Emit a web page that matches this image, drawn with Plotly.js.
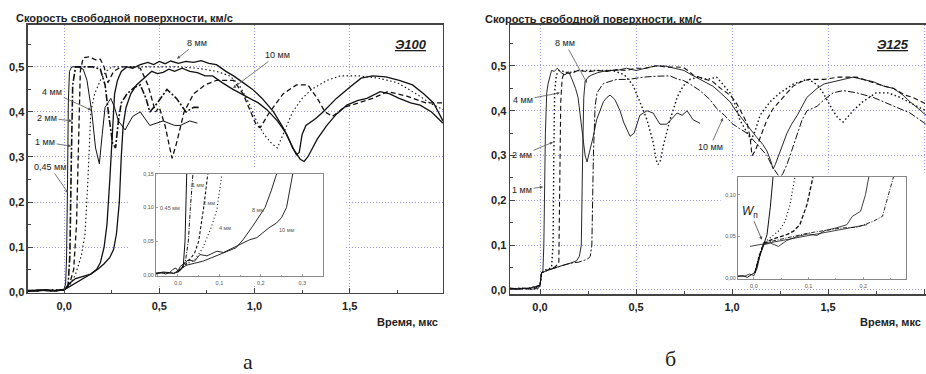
<!DOCTYPE html>
<html><head><meta charset="utf-8">
<script src="https://cdn.plot.ly/plotly-3.0.1.min.js"></script>
<style>html,body{margin:0;padding:0;background:#fff}#chart{width:926px;height:374px}</style>
</head><body><div id="chart"></div>
<script>
// ---------- Э100 (left panel), main plot: time (мкс) and velocity (км/с) ----------
const a045_t = [-0.19,-0.15,-0.11,-0.07,-0.03,0.0,0.008,0.013,0.018,0.022,0.028,0.04,0.07,0.10,0.12,0.145,0.165,0.185,0.20,0.215,0.245,0.265,0.285,0.32,0.36,0.40,0.45,0.52,0.58,0.61,0.66,0.70];
const a045_v = [0.004,0.002,0.005,0.003,0.004,0.005,0.02,0.08,0.25,0.42,0.49,0.50,0.50,0.495,0.47,0.40,0.32,0.285,0.35,0.41,0.43,0.41,0.38,0.36,0.39,0.40,0.37,0.38,0.37,0.37,0.38,0.375];
const a1_t = [-0.19,-0.12,-0.05,0.0,0.02,0.03,0.038,0.045,0.06,0.10,0.15,0.19,0.215,0.235,0.255,0.27,0.285,0.30,0.33,0.37,0.40,0.43,0.45,0.49,0.54,0.59,0.64,0.68,0.71];
const a1_v = [0.002,0.004,0.003,0.006,0.012,0.08,0.30,0.46,0.50,0.50,0.50,0.495,0.46,0.39,0.33,0.32,0.38,0.42,0.44,0.455,0.46,0.43,0.40,0.42,0.45,0.43,0.40,0.41,0.41];
const a2_t = [-0.19,-0.1,-0.04,0.0,0.03,0.05,0.065,0.075,0.085,0.10,0.13,0.17,0.19,0.21,0.23,0.26,0.30,0.35,0.40,0.44,0.48,0.50,0.53,0.555,0.567,0.59,0.63,0.68,0.74,0.80,0.89,0.94,0.98,1.01,1.03,1.08,1.15,1.22,1.28,1.33,1.37,1.41,1.47,1.55,1.62,1.70,1.80,1.90,1.99];
const a2_v = [0.003,0.005,0.003,0.006,0.02,0.05,0.15,0.35,0.49,0.52,0.522,0.515,0.517,0.50,0.465,0.49,0.50,0.50,0.497,0.46,0.40,0.41,0.37,0.32,0.297,0.33,0.40,0.44,0.46,0.47,0.47,0.44,0.40,0.37,0.365,0.40,0.44,0.46,0.46,0.43,0.40,0.39,0.41,0.42,0.43,0.445,0.435,0.42,0.42];
const a4_t = [-0.19,-0.08,0.0,0.03,0.06,0.09,0.11,0.125,0.14,0.16,0.19,0.22,0.25,0.30,0.40,0.50,0.60,0.70,0.80,0.87,0.92,0.97,1.01,1.05,1.09,1.12,1.16,1.20,1.25,1.30,1.38,1.45,1.55,1.65,1.75,1.85,1.92,1.99];
const a4_v = [0.003,0.004,0.006,0.015,0.04,0.08,0.13,0.25,0.40,0.44,0.47,0.49,0.50,0.50,0.50,0.50,0.50,0.497,0.49,0.48,0.46,0.42,0.38,0.35,0.33,0.32,0.36,0.40,0.43,0.45,0.47,0.48,0.48,0.475,0.465,0.44,0.42,0.405];
const a8_t = [-0.19,-0.14,-0.09,-0.04,0.0,0.02,0.06,0.10,0.14,0.17,0.19,0.21,0.225,0.24,0.255,0.265,0.28,0.30,0.33,0.36,0.40,0.44,0.47,0.50,0.53,0.56,0.60,0.64,0.68,0.72,0.76,0.80,0.85,0.89,0.94,0.99,1.04,1.10,1.15,1.19,1.22,1.235,1.25,1.27,1.32,1.36,1.43,1.50,1.56,1.62,1.69,1.76,1.83,1.89,1.94,1.99];
const a8_v = [0.004,0.002,0.005,0.003,0.005,0.01,0.02,0.03,0.04,0.05,0.065,0.10,0.15,0.25,0.38,0.44,0.47,0.49,0.50,0.497,0.505,0.51,0.505,0.512,0.507,0.513,0.508,0.512,0.51,0.514,0.508,0.505,0.49,0.48,0.465,0.45,0.43,0.40,0.365,0.33,0.305,0.31,0.35,0.37,0.385,0.40,0.43,0.455,0.475,0.48,0.478,0.47,0.46,0.44,0.42,0.38];
const a10_t = [-0.19,-0.13,-0.07,-0.02,0.0,0.03,0.06,0.10,0.14,0.18,0.21,0.24,0.26,0.275,0.29,0.30,0.31,0.325,0.35,0.38,0.42,0.46,0.49,0.52,0.55,0.58,0.62,0.66,0.70,0.74,0.78,0.83,0.887,0.93,0.98,1.02,1.065,1.12,1.17,1.20,1.24,1.26,1.28,1.33,1.38,1.43,1.485,1.54,1.59,1.66,1.71,1.76,1.82,1.87,1.93,1.99];
const a10_v = [0.003,0.005,0.002,0.004,0.005,0.02,0.03,0.035,0.04,0.052,0.063,0.077,0.095,0.13,0.20,0.30,0.37,0.41,0.44,0.46,0.475,0.49,0.485,0.488,0.495,0.49,0.497,0.49,0.487,0.48,0.48,0.465,0.45,0.44,0.43,0.42,0.405,0.38,0.35,0.32,0.295,0.29,0.30,0.34,0.37,0.395,0.415,0.425,0.43,0.445,0.44,0.43,0.42,0.415,0.40,0.375];

// ---------- Э100 inset ----------
const ia045_t = [-0.053,-0.04,-0.03,-0.02,-0.01,0.0,0.008,0.013,0.017,0.019,0.021];
const ia045_v = [0.002,0.003,0.001,0.003,0.002,0.004,0.008,0.015,0.05,0.10,0.15];
const ia1_t = [0.0,0.01,0.018,0.025,0.03,0.036];
const ia1_v = [0.004,0.01,0.02,0.05,0.10,0.15];
const ia2_t = [0.0,0.01,0.025,0.04,0.05,0.062,0.072];
const ia2_v = [0.004,0.01,0.02,0.032,0.05,0.10,0.15];
const ia4_t = [0.0,0.01,0.025,0.04,0.06,0.08,0.094,0.106];
const ia4_v = [0.004,0.01,0.017,0.022,0.04,0.07,0.097,0.15];
const ia8_t = [-0.053,-0.03,-0.01,0.0,0.01,0.02,0.04,0.06,0.08,0.10,0.12,0.14,0.157,0.18,0.21,0.225,0.238];
const ia8_v = [0.002,0.003,0.002,0.006,0.01,0.014,0.017,0.02,0.025,0.03,0.034,0.04,0.052,0.072,0.10,0.125,0.15];
const ia10_t = [-0.053,-0.035,-0.02,-0.012,-0.005,0.0,0.005,0.012,0.025,0.04,0.053,0.07,0.094,0.11,0.133,0.15,0.173,0.19,0.205,0.22,0.238,0.25,0.262,0.27,0.277];
const ia10_v = [0.002,0.004,0.003,0.008,0.01,0.005,0.012,0.016,0.022,0.02,0.03,0.028,0.035,0.033,0.04,0.045,0.052,0.055,0.063,0.07,0.077,0.085,0.10,0.125,0.15];

// ---------- Э125 (right panel), main plot ----------
const b1_t = [-0.156,-0.12,-0.08,-0.04,-0.01,0.0,0.008,0.015,0.02,0.028,0.035,0.042,0.06,0.075,0.09,0.11,0.13,0.15,0.167,0.185,0.198,0.212,0.224,0.235,0.245,0.26,0.276,0.295,0.3125,0.33,0.349,0.365,0.39,0.417,0.435,0.453,0.469,0.49,0.52,0.557,0.589,0.61,0.625,0.66,0.69,0.714,0.74,0.766,0.797,0.833];
const b1_v = [0.003,0.001,0.004,0.002,0.003,0.01,0.038,0.042,0.10,0.35,0.44,0.46,0.49,0.488,0.495,0.485,0.48,0.487,0.47,0.45,0.43,0.38,0.335,0.30,0.286,0.31,0.34,0.38,0.40,0.42,0.43,0.435,0.425,0.40,0.375,0.36,0.343,0.35,0.39,0.40,0.395,0.38,0.37,0.37,0.385,0.395,0.39,0.40,0.38,0.372];
const b2_t = [-0.156,-0.1,-0.05,0.0,0.008,0.03,0.06,0.068,0.072,0.076,0.085,0.10,0.15,0.20,0.25,0.30,0.38,0.44,0.484,0.52,0.557,0.589,0.605,0.615,0.628,0.641,0.66,0.677,0.70,0.714,0.745,0.781,0.82,0.87,0.92,0.96,0.99,1.02,1.04,1.08,1.10,1.12,1.146,1.198,1.25,1.32,1.39,1.42,1.45,1.474,1.50,1.526,1.55,1.578,1.60,1.63,1.68,1.75,1.81,1.875,1.94,2.01];
const b2_v = [0.002,0.004,0.002,0.01,0.038,0.045,0.05,0.10,0.30,0.44,0.48,0.49,0.485,0.49,0.49,0.49,0.49,0.48,0.457,0.42,0.38,0.33,0.29,0.28,0.29,0.32,0.35,0.38,0.41,0.43,0.455,0.47,0.475,0.47,0.475,0.455,0.44,0.41,0.38,0.35,0.335,0.355,0.39,0.42,0.44,0.46,0.47,0.465,0.455,0.44,0.42,0.40,0.385,0.375,0.385,0.40,0.42,0.44,0.44,0.43,0.415,0.40];
const b4_t = [-0.156,-0.09,-0.03,0.0,0.008,0.04,0.08,0.098,0.103,0.108,0.115,0.125,0.16,0.20,0.25,0.30,0.35,0.40,0.45,0.50,0.55,0.60,0.625,0.66,0.70,0.745,0.77,0.797,0.83,0.87,0.90,0.94,0.974,1.0,1.026,1.057,1.08,1.094,1.104,1.12,1.146,1.182,1.214,1.266,1.318,1.36,1.40,1.48,1.55,1.65,1.72,1.79,1.84,1.90,1.94,2.01];
const b4_v = [0.004,0.002,0.003,0.01,0.038,0.045,0.052,0.06,0.20,0.42,0.47,0.485,0.483,0.49,0.487,0.49,0.488,0.492,0.49,0.495,0.495,0.50,0.50,0.497,0.498,0.497,0.49,0.48,0.475,0.47,0.465,0.45,0.44,0.43,0.415,0.39,0.37,0.34,0.30,0.31,0.34,0.38,0.405,0.43,0.455,0.465,0.47,0.47,0.475,0.475,0.465,0.455,0.45,0.435,0.43,0.415];
const b8_t = [-0.156,-0.06,0.0,0.008,0.04,0.08,0.12,0.16,0.19,0.205,0.215,0.222,0.228,0.235,0.25,0.27,0.30,0.35,0.40,0.45,0.50,0.55,0.60,0.65,0.70,0.75,0.79,0.833,0.87,0.90,0.94,0.99,1.02,1.057,1.09,1.13,1.16,1.182,1.20,1.214,1.225,1.25,1.286,1.31,1.34,1.39,1.443,1.48,1.526,1.58,1.63,1.68,1.734,1.79,1.84,1.89,1.927,1.97,2.01];
const b8_v = [0.003,0.004,0.01,0.038,0.044,0.05,0.055,0.06,0.065,0.075,0.10,0.30,0.43,0.465,0.475,0.48,0.485,0.49,0.49,0.495,0.49,0.495,0.50,0.50,0.495,0.49,0.48,0.47,0.462,0.455,0.44,0.42,0.40,0.38,0.36,0.34,0.325,0.31,0.29,0.27,0.28,0.31,0.35,0.37,0.39,0.43,0.45,0.46,0.465,0.47,0.475,0.47,0.465,0.455,0.45,0.435,0.42,0.405,0.39];
const b10_t = [-0.156,-0.07,0.0,0.008,0.04,0.08,0.12,0.16,0.20,0.23,0.25,0.262,0.27,0.278,0.287,0.297,0.328,0.36,0.40,0.46,0.536,0.60,0.677,0.72,0.745,0.78,0.833,0.885,0.92,0.96,1.005,1.04,1.078,1.12,1.15,1.182,1.21,1.234,1.25,1.265,1.286,1.31,1.34,1.365,1.39,1.443,1.48,1.526,1.578,1.65,1.734,1.79,1.84,1.927,2.01];
const b10_v = [0.002,0.003,0.01,0.038,0.044,0.05,0.055,0.06,0.062,0.066,0.07,0.075,0.10,0.30,0.41,0.44,0.46,0.465,0.47,0.47,0.475,0.477,0.478,0.47,0.468,0.46,0.445,0.425,0.405,0.39,0.37,0.36,0.35,0.33,0.315,0.30,0.275,0.26,0.25,0.26,0.28,0.31,0.35,0.38,0.40,0.41,0.425,0.44,0.445,0.44,0.43,0.42,0.41,0.395,0.37];

// ---------- Э125 inset ----------
const ib1_t = [-0.029,-0.02,-0.012,-0.005,0.002,0.01,0.015,0.02,0.024,0.03,0.035];
const ib1_v = [0.002,0.003,0.001,0.004,0.007,0.025,0.035,0.045,0.052,0.085,0.121];
const ib2_t = [0.002,0.01,0.018,0.03,0.048,0.057,0.066,0.075];
const ib2_v = [0.007,0.028,0.042,0.048,0.058,0.068,0.088,0.121];
const ib4_t = [0.002,0.01,0.018,0.04,0.06,0.072,0.084,0.097,0.108];
const ib4_v = [0.007,0.027,0.042,0.048,0.052,0.056,0.064,0.088,0.121];
const ib8_t = [-0.029,-0.018,-0.008,0.0,0.006,0.012,0.018,0.03,0.045,0.06,0.08,0.10,0.115,0.13,0.15,0.17,0.18,0.195,0.204,0.21];
const ib8_v = [0.003,0.002,0.005,0.003,0.012,0.03,0.04,0.042,0.038,0.045,0.05,0.053,0.051,0.057,0.06,0.064,0.074,0.08,0.10,0.121];
const ib10_t = [0.002,0.01,0.018,0.04,0.07,0.10,0.13,0.16,0.189,0.218,0.235,0.246,0.255];
const ib10_v = [0.006,0.026,0.042,0.045,0.05,0.054,0.057,0.06,0.061,0.068,0.074,0.10,0.121];
const ibTan_t = [-0.007,0.207];
const ibTan_v = [0.038,0.064];

const axisFont = {family:'Liberation Sans, Arial, sans-serif', size:11, color:'#222', weight:'bold'};
const lblFont = {family:'Liberation Sans, Arial, sans-serif', size:9, color:'#222'};
const tinyFont = {family:'Liberation Sans, Arial, sans-serif', size:5.5, color:'#555'};

function tr(t, v, xa, ya, dash, w) {
  return {x:t, y:v, xaxis:xa, yaxis:ya, mode:'lines', type:'scatter', hoverinfo:'skip', showlegend:false,
          line:{color:'#111', width:w||1.1, dash:dash||'solid'}};
}
const DOT = '1.5px,2.5px', DASH = '5px,3px', DASHDOT = '7px,2px,2px,2px';

const data = [
  tr(a045_t, a045_v, 'x', 'y', 'solid', 1.0),
  tr(a1_t, a1_v, 'x', 'y', DASHDOT, 1.6),
  tr(a2_t, a2_v, 'x', 'y', DASH, 1.3),
  tr(a4_t, a4_v, 'x', 'y', DOT, 1.1),
  tr(a8_t, a8_v, 'x', 'y', 'solid', 1.3),
  tr(a10_t, a10_v, 'x', 'y', 'solid', 1.3),
  tr(ia045_t, ia045_v, 'x2', 'y2', 'solid', 1.0),
  tr(ia1_t, ia1_v, 'x2', 'y2', '4px,1.5px,1px,1.5px', 1.0),
  tr(ia2_t, ia2_v, 'x2', 'y2', '3px,2px', 1.1),
  tr(ia4_t, ia4_v, 'x2', 'y2', '1px,2.5px', 1.1),
  tr(ia8_t, ia8_v, 'x2', 'y2', 'solid', 0.9),
  tr(ia10_t, ia10_v, 'x2', 'y2', 'solid', 0.9),
  tr(b1_t, b1_v, 'x3', 'y3', 'solid', 0.9),
  tr(b2_t, b2_v, 'x3', 'y3', DOT, 1.4),
  tr(b4_t, b4_v, 'x3', 'y3', DASH, 1.1),
  tr(b8_t, b8_v, 'x3', 'y3', 'solid', 0.9),
  tr(b10_t, b10_v, 'x3', 'y3', DASHDOT, 1.0),
  tr(ib1_t, ib1_v, 'x4', 'y4', 'solid', 1.0),
  tr(ib2_t, ib2_v, 'x4', 'y4', '1px,2.5px', 1.2),
  tr(ib4_t, ib4_v, 'x4', 'y4', '4px,2px', 1.3),
  tr(ib8_t, ib8_v, 'x4', 'y4', 'solid', 0.8),
  tr(ib10_t, ib10_v, 'x4', 'y4', '4px,1.5px,1px,1.5px', 0.9),
  tr(ibTan_t, ibTan_v, 'x4', 'y4', 'solid', 0.8)
];

const gridC = 'rgba(135,135,240,0.85)';
const gridDash = '1px,2px';
function mainX(dom, rng, anchor) {
  return {domain:dom, range:rng, anchor:anchor, dtick:0.5, tick0:0, tickformat:'.1f',
    showgrid:true, gridcolor:gridC, griddash:gridDash, gridwidth:1, zeroline:false,
    showline:true, mirror:true, linecolor:'#444', linewidth:1.5,
    ticks:'inside', ticklen:5, tickwidth:1, tickcolor:'#444', tickfont:axisFont, ticklabelstandoff:2,
    minor:{dtick:0.25, tick0:0, ticks:'inside', ticklen:3, tickcolor:'#444', showgrid:false}};
}
function mainY(dom, rng, anchor) {
  return {domain:dom, range:rng, anchor:anchor, dtick:0.1, tick0:0, tickformat:'.1f',
    showgrid:true, gridcolor:gridC, griddash:gridDash, gridwidth:1, zeroline:false,
    showline:true, mirror:true, linecolor:'#444', linewidth:1.5,
    ticks:'inside', ticklen:5, tickwidth:1, tickcolor:'#444', tickfont:axisFont,
    minor:{dtick:0.05, tick0:0, ticks:'inside', ticklen:3, tickcolor:'#444', showgrid:false}};
}
function insX(dom, rng, anchor) {
  return {domain:dom, range:rng, anchor:anchor, dtick:0.1, tick0:0, tickformat:'.1f',
    showgrid:false, zeroline:false, showline:true, mirror:true, linecolor:'#888', linewidth:1,
    ticks:'inside', ticklen:2, tickwidth:0.8, tickcolor:'#888', tickfont:tinyFont, ticklabelstandoff:1,
    minor:{dtick:0.05, tick0:0, ticks:'inside', ticklen:1.5, tickcolor:'#888'}};
}
function insY(dom, rng, anchor) {
  return {domain:dom, range:rng, anchor:anchor, dtick:0.05, tick0:0, tickformat:'.2f',
    showgrid:false, zeroline:false, showline:true, mirror:true, linecolor:'#888', linewidth:1,
    ticks:'inside', ticklen:2, tickwidth:0.8, tickcolor:'#888', tickfont:tinyFont};
}

function lab(text, x, y, xr, yr, ax, ay) {
  return {text:text, x:x, y:y, xref:xr, yref:yr, showarrow:true, ax:ax, ay:ay,
    arrowhead:2, arrowsize:0.8, arrowwidth:0.8, arrowcolor:'#555', font:lblFont, standoff:0};
}
function tiny(text, x, y, xr, yr) {
  return {text:text, x:x, y:y, xref:xr, yref:yr, showarrow:false, font:tinyFont};
}
function ptxt(text, x, y, xa, font) {
  return {text:text, x:x, y:y, xref:'paper', yref:'paper', xanchor:xa, yanchor:'middle', showarrow:false, font:font};
}

const layout = {
  width:926, height:374, margin:{l:0, r:0, t:0, b:0},
  paper_bgcolor:'#fff', plot_bgcolor:'#fff', separators:', ', showlegend:false,
  xaxis: mainX([0.0302, 0.4784], [-0.19, 1.99], 'y'),
  yaxis: mainY([0.2166, 0.9332], [-0.002, 0.593], 'x'),
  xaxis2: insX([0.1685, 0.3488], [-0.053, 0.35], 'y2'),
  yaxis2: insY([0.262, 0.5348], [-0.002, 0.15], 'x2'),
  xaxis3: mainX([0.5508, 1.0], [-0.156, 2.01], 'y3'),
  yaxis3: mainY([0.2139, 0.9332], [-0.009, 0.5915], 'x3'),
  xaxis4: insX([0.797, 0.9784], [-0.029, 0.278], 'y4'),
  yaxis4: insY([0.254, 0.5267], [-0.001, 0.121], 'x4'),
  shapes: [
    {type:'rect', xref:'x', yref:'y', x0:0.336, x1:1.474, y0:0.016, y1:0.276, fillcolor:'#fff', line:{width:0}, layer:'between'},
    {type:'rect', xref:'x3', yref:'y3', x0:0.94, x1:2.01, y0:0.004, y1:0.262, fillcolor:'#fff', line:{width:0}, layer:'between'}
  ],
  annotations: [
    ptxt('Скорость свободной поверхности, км/с', 0.0151, 0.9519, 'left', axisFont),
    ptxt('Скорость свободной поверхности, км/с', 0.5216, 0.949, 'left', axisFont),
    ptxt('Время, мкс', 0.4752, 0.139, 'right', axisFont),
    ptxt('Время, мкс', 0.9968, 0.139, 'right', axisFont),
    ptxt('<b><i><u>Э100</u></i></b>', 0.4438, 0.8797, 'center', {family:'Liberation Sans, Arial, sans-serif', size:13, color:'#222'}),
    ptxt('<b><i><u>Э125</u></i></b>', 0.9644, 0.8797, 'center', {family:'Liberation Sans, Arial, sans-serif', size:13, color:'#222'}),
    ptxt('а', 248/926, (374-361)/374, 'center', {family:'Liberation Serif, serif', size:22, color:'#222'}),
    ptxt('б', 670/926, (374-358)/374, 'center', {family:'Liberation Serif, serif', size:22, color:'#222'}),
    lab('8 мм', 0.593, 0.518, 'x', 'y', 20, -16),
    lab('10 мм', 0.887, 0.453, 'x', 'y', 44, -33),
    lab('4 мм', 0.142, 0.404, 'x', 'y', -39, -18),
    lab('2 мм', 0.042, 0.38, 'x', 'y', -25, -3),
    lab('1 мм', 0.037, 0.324, 'x', 'y', -26, -4),
    lab('0,45 мм', 0.021, 0.22, 'x', 'y', -18, -26),
    lab('8 мм', 0.245, 0.462, 'x3', 'y3', -22, -40),
    lab('4 мм', 0.104, 0.44, 'x3', 'y3', -37, 7),
    lab('2 мм', 0.068, 0.33, 'x3', 'y3', -31, 13),
    lab('1 мм', 0.016, 0.23, 'x3', 'y3', -21, 3),
    lab('10 мм', 0.953, 0.384, 'x3', 'y3', -13, 29),
    {text:'<i>W</i><sub>п</sub>', x:0.0147, y:0.046, xref:'x4', yref:'y4', showarrow:true, ax:-12, ay:-28,
      arrowhead:2, arrowsize:0.8, arrowwidth:0.8, arrowcolor:'#444', standoff:0,
      font:{family:'Liberation Sans, Arial, sans-serif', size:12, color:'#222'}},
    tiny('1 мм', 0.048, 0.134, 'x2', 'y2'),
    tiny('2 мм', 0.074, 0.107, 'x2', 'y2'),
    tiny('0,45 мм', -0.019, 0.10, 'x2', 'y2'),
    tiny('4 мм', 0.113, 0.069, 'x2', 'y2'),
    tiny('8 мм', 0.193, 0.097, 'x2', 'y2'),
    tiny('10 мм', 0.263, 0.067, 'x2', 'y2')
  ]
};

Plotly.newPlot('chart', data, layout, {staticPlot:true, displayModeBar:false});
</script>
</body></html>
